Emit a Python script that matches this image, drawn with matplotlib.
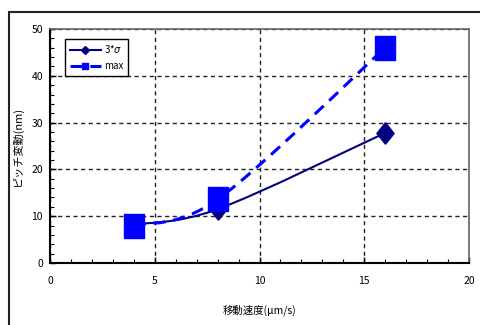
import numpy as np
import matplotlib.pyplot as plt
from matplotlib.path import Path
from matplotlib.patches import PathPatch, Rectangle
from matplotlib.lines import Line2D

plt.rcParams['font.family'] = ['Noto Sans CJK JP', 'DejaVu Sans']

speed = [4, 8, 16]
sigma3 = [8.2, 11.5, 27.8]
pmax = [8.0, 13.6, 46.0]

fig = plt.figure(figsize=(4.8, 3.25), dpi=100)
# outer chart frame
fig.patches.append(Rectangle((9 / 480, -0.05), 1.0, (325 - 12) / 325 + 0.05,
                             transform=fig.transFigure, fill=False,
                             edgecolor='#222222', linewidth=1.5))
ax = fig.add_axes([50 / 480, 62 / 325, 419 / 480, 234 / 325])


def smooth_path(xs, ys):
    # bezier through the points (excel-like smoothing)
    pts = np.column_stack([xs, ys]).astype(float)
    ext = np.vstack([pts[0], pts, pts[-1]])
    verts = [pts[0]]
    codes = [Path.MOVETO]
    for i in range(len(pts) - 1):
        p0, p1, p2, p3 = ext[i], ext[i + 1], ext[i + 2], ext[i + 3]
        c1 = p1 + (p2 - p0) / 6
        c2 = p2 - (p3 - p1) / 6
        verts += [c1, c2, p2]
        codes += [Path.CURVE4] * 3
    return Path(verts, codes)


ax.add_patch(PathPatch(smooth_path(speed, sigma3), fill=False,
                       edgecolor='#000080', linewidth=1.5, zorder=3))
ax.add_patch(PathPatch(smooth_path(speed, pmax), fill=False,
                       edgecolor='#0000ff', linewidth=2.2,
                       linestyle=(0, (4, 2.5)), zorder=3))

diamond = [(0, -1), (0.8, 0), (0, 1), (-0.8, 0), (0, -1)]
rect = [(-0.82, -1), (0.82, -1), (0.82, 1), (-0.82, 1), (-0.82, -1)]
ax.plot(speed, sigma3, linestyle='none', marker=diamond, markersize=15.5,
        color='#000080', zorder=4)
ax.plot(speed, pmax, linestyle='none', marker=rect, markersize=17,
        color='#0000ff', zorder=5)

ax.set_xlim(0, 20)
ax.set_ylim(0, 50)
ax.set_xticks([0, 5, 10, 15, 20])
ax.set_yticks([0, 10, 20, 30, 40, 50])
ax.set_xticks(np.arange(0, 21, 1), minor=True)
ax.set_yticks(np.arange(0, 51, 2), minor=True)
ax.tick_params(which='both', direction='in', labelsize=7.5, color='black')
ax.tick_params(which='major', length=4, width=1)
ax.tick_params(which='minor', length=3, width=0.8)
ax.tick_params(axis='x', pad=9)
ax.tick_params(axis='y', pad=5)
ax.grid(True, which='major', color='#222222', linestyle=(0, (3, 2.5)),
        linewidth=1)
for s in ['left', 'bottom']:
    ax.spines[s].set_color('black')
    ax.spines[s].set_linewidth(1.5)
for s in ['top', 'right']:
    ax.spines[s].set_color('#666666')
    ax.spines[s].set_linewidth(1.2)

ax.set_xlabel('移動速度(μm/s)', fontsize=7.5, labelpad=14)
ax.set_ylabel('ピッチ変動(nm)', fontsize=8, labelpad=6)

handles = [
    Line2D([], [], color='#000080', linewidth=1.5, marker='D', markersize=4),
    Line2D([], [], color='#0000ff', linewidth=2.2, linestyle=(0, (4, 2.5)),
           marker='s', markersize=5),
]
leg = ax.legend(handles, ['3*$\\sigma$', 'max'], loc='upper left',
                bbox_to_anchor=(0.024, 0.98), fontsize=7, frameon=True,
                fancybox=False, edgecolor='black', framealpha=1,
                handlelength=3.2, borderpad=0.5, labelspacing=0.6,
                handletextpad=0.3)
leg.get_frame().set_linewidth(1)

fig.savefig('out.png', dpi=100)
